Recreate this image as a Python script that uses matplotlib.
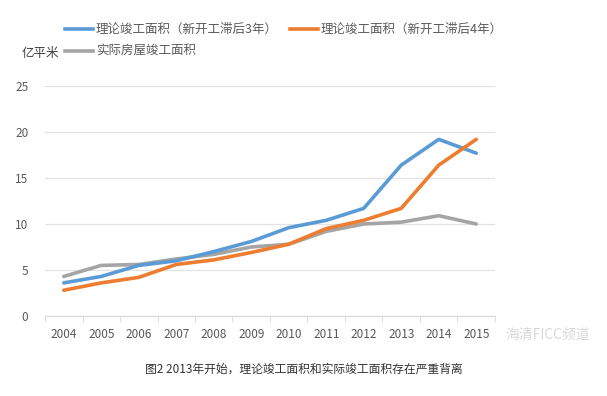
import matplotlib.pyplot as plt
from matplotlib.lines import Line2D

plt.rcParams['font.family'] = ['Noto Sans CJK SC', 'DejaVu Sans']

years = [2004, 2005, 2006, 2007, 2008, 2009, 2010, 2011, 2012, 2013, 2014, 2015]
lag3 = [3.6, 4.3, 5.5, 6.0, 7.0, 8.1, 9.6, 10.4, 11.7, 16.4, 19.2, 17.7]
lag4 = [2.8, 3.6, 4.2, 5.6, 6.1, 6.9, 7.8, 9.5, 10.4, 11.7, 16.4, 19.2]
actual = [4.3, 5.5, 5.6, 6.2, 6.7, 7.5, 7.8, 9.2, 10.0, 10.2, 10.9, 10.0]

label_lag3 = '理论竣工面积（新开工滞后3年）'
label_lag4 = '理论竣工面积（新开工滞后4年）'
label_actual = '实际房屋竣工面积'
caption = '图2 2013年开始，理论竣工面积和实际竣工面积存在严重背离'

c_blue = '#5B9BD5'
c_orange = '#ED7D31'
c_gray = '#A5A5A5'

fig = plt.figure(figsize=(6.07, 3.96), dpi=100)
ax = fig.add_axes([45 / 607, 1 - 316 / 396, 450 / 607, 230 / 396])

x = list(range(len(years)))
ax.plot(x, lag3, color=c_blue, lw=2.6, solid_capstyle='round', zorder=3)
ax.plot(x, lag4, color=c_orange, lw=2.6, solid_capstyle='round', zorder=3)
ax.plot(x, actual, color=c_gray, lw=2.6, solid_capstyle='round', zorder=2)

ax.set_xlim(-0.5, len(years) - 0.5)
ax.set_ylim(0, 25)
ax.set_yticks([0, 5, 10, 15, 20, 25])
ax.grid(axis='y', color='#E3E3E3', lw=0.9)
ax.set_axisbelow(True)

ax.set_xticks(x)
ax.set_xticklabels([str(y) for y in years])
ax.set_xticks([i - 0.5 for i in range(len(years) + 1)], minor=True)
ax.tick_params(axis='x', which='major', length=0, pad=9, labelsize=8.5, labelcolor='#595959')
ax.tick_params(axis='x', which='minor', length=4, color='#D9D9D9')
ax.tick_params(axis='y', length=0, pad=12, labelsize=8.5, labelcolor='#595959')

for s in ['top', 'right', 'left']:
    ax.spines[s].set_visible(False)
ax.spines['bottom'].set_color('#D9D9D9')

handles = [Line2D([], [], color=c_blue, lw=2.6),
           Line2D([], [], color=c_gray, lw=2.6),
           Line2D([], [], color=c_orange, lw=2.6)]
fig.legend(handles, [label_lag3, label_actual, label_lag4], ncol=2,
           loc='upper left', bbox_to_anchor=(54 / 607, 1 - 12 / 396),
           frameon=False, fontsize=9, handlelength=2.2, handletextpad=0.25,
           columnspacing=1.0, labelspacing=0.7, labelcolor='#595959')

fig.text(22 / 607, 1 - 53 / 396, '亿平米', fontsize=9, color='#404040', va='center')
fig.text(0.5, 1 - 369 / 396, caption, fontsize=8.5, color='#333333', ha='center', va='center')
# watermark, nudged right of the last tick label so it does not sit on top of it
fig.text(548 / 607, 1 - 335 / 396, '海清FICC频道', fontsize=10, color='#C8C8C8',
         alpha=0.7, ha='center', va='center')

fig.savefig('out.png', dpi=100, facecolor='white')
